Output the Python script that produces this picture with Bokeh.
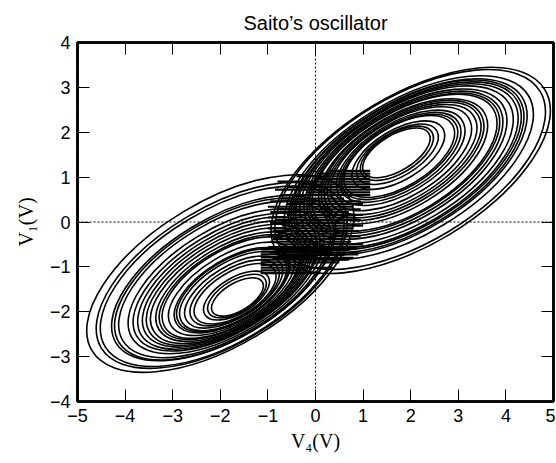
import math
from bokeh.plotting import figure
from bokeh.models import LinearAxis, Span, FixedTicker
from bokeh.embed import file_html
from bokeh.resources import INLINE

# ---- data ----
# right scroll loops (centre, width in V4 units, height in V1 units)
right_cx = [1.70, 1.71, 1.72, 1.74, 1.76, 1.77, 1.78, 1.79, 1.80, 1.82, 1.83, 1.83, 1.84, 1.87, 1.87,
            1.88, 1.89, 1.91, 1.92, 1.93, 1.93, 1.94, 1.96, 1.99, 2.00]
right_cy = [1.54, 1.53, 1.51, 1.49, 1.46, 1.45, 1.44, 1.43, 1.41, 1.39, 1.38, 1.37, 1.35, 1.32, 1.31,
            1.30, 1.29, 1.27, 1.25, 1.25, 1.24, 1.23, 1.21, 1.17, 1.15]
right_w = [1.59, 1.72, 1.93, 2.18, 2.60, 2.73, 2.85, 3.02, 3.31, 3.52, 3.69, 3.82, 3.98, 4.36, 4.49,
           4.61, 4.78, 5.03, 5.24, 5.37, 5.49, 5.62, 5.87, 6.37, 6.58]
right_h = [0.80, 0.89, 0.98, 1.11, 1.34, 1.38, 1.47, 1.56, 1.69, 1.78, 1.87, 1.96, 2.05, 2.23, 2.27,
           2.36, 2.45, 2.58, 2.67, 2.72, 2.81, 2.85, 2.98, 3.25, 3.34]
# left scroll loops
left_cx = [-1.64, -1.65, -1.66, -1.69, -1.70, -1.72, -1.73, -1.74, -1.75, -1.76, -1.78, -1.79, -1.80,
           -1.82, -1.83, -1.84, -1.85, -1.87, -1.88, -1.91, -1.92, -1.93, -1.96, -1.97, -2.00]
left_cy = [-1.67, -1.65, -1.64, -1.60, -1.58, -1.56, -1.54, -1.52, -1.52, -1.49, -1.46, -1.45, -1.44,
           -1.42, -1.40, -1.38, -1.36, -1.34, -1.32, -1.28, -1.27, -1.25, -1.21, -1.19, -1.15]
left_w = [1.22, 1.38, 1.55, 1.93, 2.10, 2.31, 2.52, 2.64, 2.73, 2.98, 3.23, 3.35, 3.48, 3.69, 3.86,
          4.03, 4.23, 4.40, 4.61, 4.99, 5.16, 5.28, 5.74, 5.91, 6.29]
left_h = [0.62, 0.71, 0.80, 0.98, 1.07, 1.16, 1.29, 1.34, 1.38, 1.51, 1.65, 1.69, 1.78, 1.87, 1.96,
          2.05, 2.14, 2.23, 2.36, 2.54, 2.63, 2.67, 2.94, 3.03, 3.21]
loop_tilt_deg = 31

# fast horizontal jumps in the central band
jump_y = [1.14, 1.08, 1.02, 0.96, 0.90, 0.84, 0.78, 0.72, 0.66, 0.60,
          0.52, 0.46, 0.40, 0.34, 0.28, 0.22, 0.16, 0.10, 0.04, -0.02, -0.08, -0.14, -0.20, -0.26,
          -0.32, -0.38, -0.44, -0.50, -0.56, -0.62, -0.68, -0.74, -0.80,
          -0.60, -0.66, -0.72, -0.78, -0.84, -0.90, -0.96, -1.02, -1.08, -1.14]
jump_x0 = [0.30, 0.10, -0.40, 0.00, -0.80, -0.30, -0.60, -0.85, -0.20, -0.75,
           -0.70, -0.95, -0.60, -1.00, -0.80, -0.95, -0.60, -1.00, -0.85, -0.95, -0.70, -1.00, -0.90, -0.80,
           -1.00, -0.90, -0.95, -0.75, -1.00, -0.85, -0.95, -0.80, -0.90,
           -1.15, -1.15, -1.15, -1.15, -1.15, -1.15, -1.15, -1.15, -1.15, -1.15]
jump_x1 = [1.15, 1.15, 1.15, 1.15, 1.15, 1.15, 1.15, 1.15, 1.15, 1.15,
           0.60, 0.95, 1.00, 0.80, 0.95, 0.70, 1.00, 0.85, 0.95, 0.60, 1.00, 0.80, 0.90, 0.70,
           0.95, 0.60, 0.75, 1.00, 0.85, 0.70, 0.90, 0.60, 0.80,
           0.85, 0.30, 0.90, 0.00, 0.70, 0.50, -0.20, 0.40, -0.30, 0.10]

x_ticks = [-5, -4, -3, -2, -1, 0, 1, 2, 3, 4, 5]
y_ticks = [-4, -3, -2, -1, 0, 1, 2, 3, 4]
x_tick_labels = ["\u22125", "\u22124", "\u22123", "\u22122", "\u22121", "0", "1", "2", "3", "4", "5"]
y_tick_labels = ["\u22124", "\u22123", "\u22122", "\u22121", "0", "1", "2", "3", "4"]

p = figure(frame_width=476, frame_height=359, x_range=(-5, 5), y_range=(-4, 4),
           output_backend="svg", toolbar_location=None,
           min_border_left=77, min_border_right=2, min_border_top=42, min_border_bottom=61,
           title="Saito\u2019s oscillator")
p.title.align = "center"
p.title.text_font = "Liberation Sans"
p.title.text_font_style = "normal"
p.title.text_font_size = "20px"
p.title.text_color = "black"
p.title.standoff = 17
p.background_fill_color = "white"
p.border_fill_color = "white"
p.grid.visible = False
p.outline_line_color = "black"
p.outline_line_width = 2.5

ang = math.radians(loop_tilt_deg)
p.ellipse(x=right_cx, y=right_cy, width=right_w, height=right_h, angle=ang,
          fill_color=None, line_color="black", line_width=1.6)
p.ellipse(x=left_cx, y=left_cy, width=left_w, height=left_h, angle=ang,
          fill_color=None, line_color="black", line_width=1.6)
p.segment(x0=jump_x0, y0=jump_y, x1=jump_x1, y1=jump_y, line_color="black", line_width=2.2)

p.add_layout(Span(location=0, dimension="height", line_color="black", line_width=1, line_dash="2 2"))
p.add_layout(Span(location=0, dimension="width", line_color="black", line_width=1, line_dash="2 2"))

def style(ax, ticks, labels, show):
    ax.ticker = FixedTicker(ticks=ticks)
    ax.major_tick_in = 12
    ax.major_tick_out = 0
    ax.minor_tick_line_color = None
    ax.major_tick_line_color = "black"
    ax.major_tick_line_width = 1
    ax.axis_line_color = "black"
    ax.axis_line_width = 2.5
    if show:
        ax.major_label_overrides = {t: l for t, l in zip(ticks, labels)}
        ax.major_label_text_font = "Liberation Sans"
        ax.major_label_text_font_size = "18px"
        ax.major_label_text_color = "black"
        ax.major_label_standoff = 7
    else:
        ax.major_label_text_font_size = "1px"
        ax.major_label_text_color = None
        ax.major_label_standoff = 0

xa = p.xaxis[0]
ya = p.yaxis[0]
style(xa, x_ticks, x_tick_labels, True)
style(ya, y_ticks, y_tick_labels, True)
xa.axis_label = "V\u2084(V)"
ya.axis_label = "V\u2081(V)"
for ax in (xa, ya):
    ax.axis_label_text_font = "Liberation Serif"
    ax.axis_label_text_font_style = "normal"
    ax.axis_label_text_font_size = "20px"
    ax.axis_label_text_color = "black"
xa.axis_label_standoff = 5
ya.axis_label_standoff = 10

top = LinearAxis()
right = LinearAxis()
style(top, x_ticks, x_tick_labels, False)
style(right, y_ticks, y_tick_labels, False)
p.add_layout(top, "above")
p.add_layout(right, "right")

open("out.html", "w").write(file_html(p, INLINE))
